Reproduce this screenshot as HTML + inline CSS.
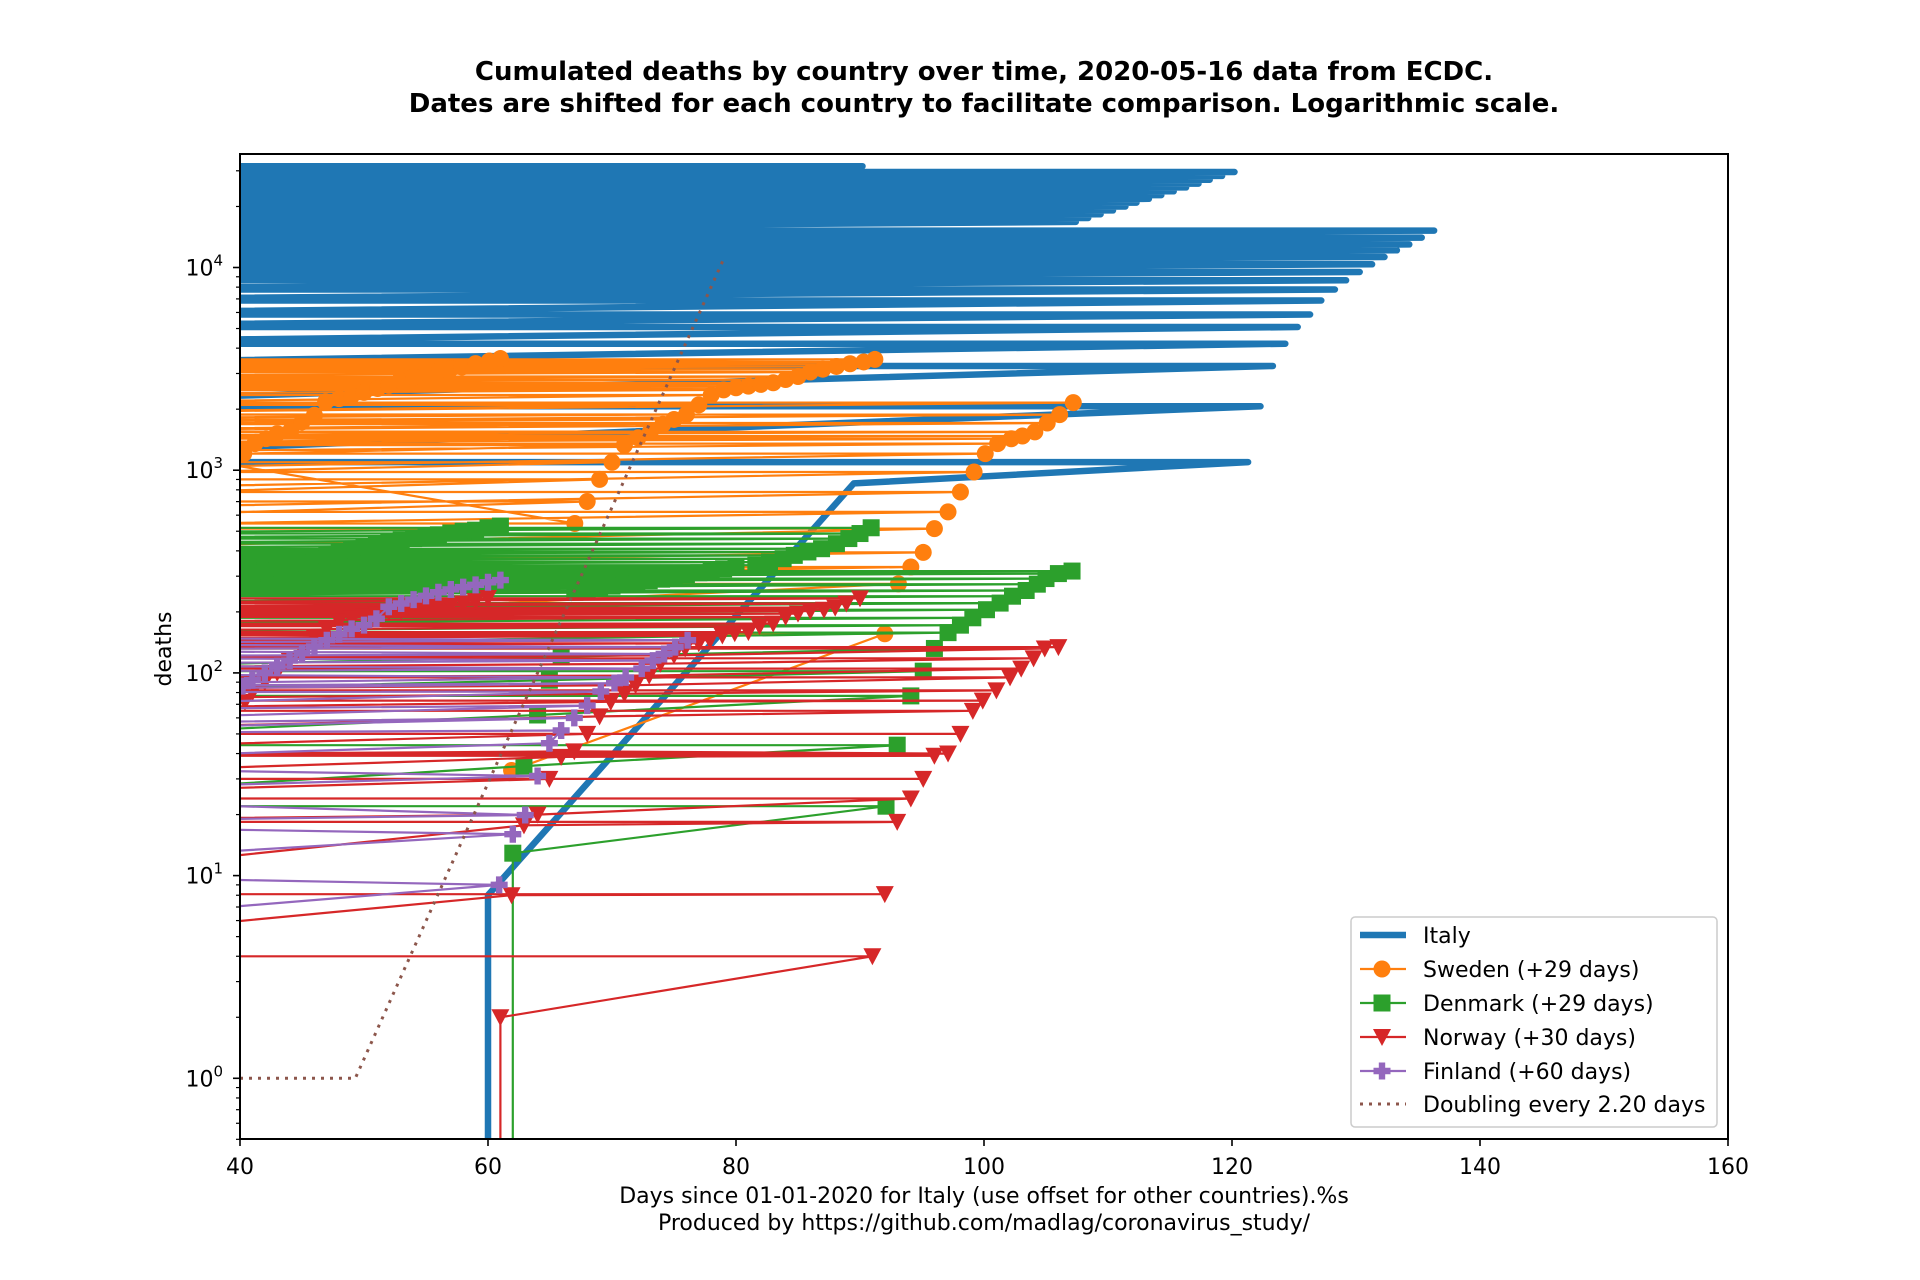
<!DOCTYPE html>
<html>
<head>
<meta charset="utf-8">
<style>
  html,body{margin:0;padding:0;background:#fff;}
  svg{display:block;}
  text{font-family:"DejaVu Sans","Liberation Sans",sans-serif;fill:#000;}
</style>
</head>
<body>
<svg id="chart" xmlns="http://www.w3.org/2000/svg" width="1920" height="1280" viewBox="0 0 1920 1280">
  <rect x="0" y="0" width="1920" height="1280" fill="#fff"/>
  <defs>
    <clipPath id="plotclip"><rect x="240" y="154" width="1488" height="985"/></clipPath>
  </defs>
  <text x="984" y="80" text-anchor="middle" font-size="26" font-weight="bold">Cumulated deaths by country over time, 2020-05-16 data from ECDC.</text>
  <text x="984" y="112" text-anchor="middle" font-size="26" font-weight="bold">Dates are shifted for each country to facilitate comparison. Logarithmic scale.</text>
  <g id="series" clip-path="url(#plotclip)"></g>
  <rect x="240" y="154" width="1488" height="985" fill="none" stroke="#000" stroke-width="2"/>
  <g id="axes"></g>
  <text x="984" y="1203" text-anchor="middle" font-size="22">Days since 01-01-2020 for Italy (use offset for other countries).%s</text>
  <text x="984" y="1230" text-anchor="middle" font-size="22">Produced by https://github.com/madlag/coronavirus_study/</text>
  <text x="0" y="0" transform="translate(171,649) rotate(-90)" text-anchor="middle" font-size="22">deaths</text>
  <g id="legend"></g>
</svg>
<script>
const italyDays = [60,60,89.5,121.3,10,122.3,10,123.3,10,124.3,10,125.3,10,126.3,10,127.2,10,128.3,10,129.2,10,130.3,10,131.3,10,132.3,10,133.3,10,134.3,10,135.3,10,136.3,10,107.4,10,108.4,10,109.4,10,110.4,10,111.4,10,112.3,10,113.3,10,114.3,10,115.3,10,116.3,10,117.3,10,118.2,10,119.2,10,120.2,10,90.2,10,89.8,10,89.4,10];
const italyDeaths = [0.1,8,861,1097,1097,2066,2066,3266,3266,4210,4210,5085,5085,5860,5860,6870,6870,7785,7785,8650,8650,9500,9500,10370,10370,11270,11270,12160,12160,13000,13000,14040,14040,15200,15200,16790,16790,17540,17540,18320,18320,19140,19140,20000,20000,20890,20890,21830,21830,22750,22750,23770,23770,24830,24830,25940,25940,27100,27100,28310,28310,29580,29580,31600,31600,31300,31300,30800,30800];

const swedenDays = [61.9,92,10,93.1,10,94.1,10,95.1,10,96.0,10,97.1,10,98.1,10,99.2,10,100.1,10,101.1,10,102.2,10,103.1,10,104.1,10,105.1,10,106.1,10,107.2,10,67,10,68,10,69,10,70,10,71,10,72.1,10,73.1,10,74.1,10,75,10,76,10,77,10,78,10,79,10,80,10,81,10,82,10,83,10,84,10,85,10,86,10,87,10,88.1,10,89.2,10,90.3,10,91.2,10,40.3,41.2,42.1,43,44.1,45,46,46.9,48,49,50,51.1,52,52.9,54,55.1,56.1,57,57.9,59,60.1,61];
const swedenDeaths = [33,156,156,275,275,333,333,393,393,515,515,623,623,781,781,980,980,1207,1207,1353,1353,1430,1430,1475,1475,1545,1545,1710,1710,1880,1880,2155,2155,546,546,701,701,901,901,1095,1095,1330,1330,1445,1445,1550,1550,1686,1686,1780,1780,1883,1883,2100,2100,2350,2350,2490,2490,2550,2550,2600,2600,2650,2650,2700,2700,2800,2800,2900,2900,3050,3050,3150,3150,3250,3250,3350,3350,3420,3420,3520,3520,1207,1353,1432,1515,1573,1730,1866,2172,2255,2330,2420,2530,2625,2780,2885,3000,3110,3170,3230,3355,3455,3555];

const denmarkDays = [62,62,92.1,10,62.9,93.0,10,64,94.1,10,64.95,95.1,10,65.9,96.0,10,97.1,10,98.1,10,99.1,10,100.2,10,101.3,10,102.3,10,103.4,10,104.3,10,105.0,10,106.0,10,107.1,10,67,10,68,10,69,10,70,10,71,10,72,10,73,10,74,10,75,10,76,10,77,10,78,10,79,10,80,10,81.6,10,82.7,10,83.8,10,84.7,10,85.8,10,86.9,10,88.1,10,89.1,10,90.0,10,90.9,10,40,41,42,43,44,45,46,47,48,49,50,51,52,53,54,55,56,57,58,59,60,61];
const denmarkDeaths = [0.1,12.9,22,22,34.7,44,44,62,77,77,92,102,102,120,132,132,158,158,172,172,187,187,205,205,221,221,239,239,255,255,274,274,292,292,309,309,318,318,250,250,255,255,262,262,268,268,275,275,280,280,285,285,290,290,298,298,305,305,312,312,318,318,326,326,333,333,340,340,352,352,366,366,380,380,395,395,410,410,434,434,460,460,487,487,520,520,300,310,320,330,340,350,365,380,395,405,420,434,443,452,460,470,480,490,500,506,520,530];

const norwayDays = [61,61,91,10,61.9,92.0,10,62.9,93.0,10,64,94.1,10,64.95,95.1,10,65.9,96.0,10,66.96,97.1,10,68,98.1,10,69,99.1,10,69.9,99.9,10,71,101,10,71.9,102.1,10,73,103,10,73.9,104,10,75,104.9,10,75.9,106,10,77,10,77.9,10,78.9,10,79.9,10,81,10,81.9,10,83,10,84,10,85,10,86,10,87.1,10,88,10,88.9,10,90,10,40.4,41,42,43,44,45,46,47,48,49,50,51,52,53,54,55,56,57,58,59,60];
const norwayDeaths = [0.1,2,4,4,8,8.1,8.1,17.7,18.4,18.4,20,24,24,30,30,30,38.5,39,39,41,40,40,50,50,50,61,65,65,72,73,73,79,82,82,87,95,95,97,105,105,111,118,118,122,132,132,132,134,134,140,140,145,145,153,153,157,157,159,159,170,170,175,175,189,189,196,196,202,202,205,205,210,210,220,220,233,233,72,80,90,100,115,130,150,165,180,185,190,195,200,203,206,209,212,215,220,226,234];

const finlandDays = [10,60.9,10,62,10,63,10,64,10,64.95,65.9,10,66.96,10,68,10,69.1,10,70.2,10,71.1,10,72.4,10,73.3,10,74.2,10,75.1,10,76.1,10,40.2,41,42,43,44,45,46,47,48,49,50,51,52,53,54,55,56,57,58,59,60,61];
const finlandDeaths = [5,9,10.3,16,18,19.9,25,31,35,45,52,50,60,55,69,65,81,80,89,85,95,100,105,110,115,120,124,130,134,140,145,150,86,92,100,108,115,125,135,145,155,165,172,185,212,220,230,240,250,258,265,272,280,287];

const doublingDays = [40,49.3,79];
const doublingDeaths = [1,1,11000];

const xTicks = [40,60,80,100,120,140,160];
const yTickExps = [0,1,2,3,4];

const NS = "http://www.w3.org/2000/svg";
const X0 = 240, X1 = 1728, Y0 = 154, Y1 = 1139;
const DMIN = 40, DMAX = 160;
const LOG_ZERO_Y = 1078.3, DECADE = 202.7;
function xS(d){ return X0 + (d - DMIN) * (X1 - X0) / (DMAX - DMIN); }
function yS(v){ return LOG_ZERO_Y - Math.log10(v) * DECADE; }
function mk(tag, attrs){ const e = document.createElementNS(NS, tag); for (const k in attrs) e.setAttribute(k, attrs[k]); return e; }

const seriesG = document.getElementById('series');
const axesG = document.getElementById('axes');
const legendG = document.getElementById('legend');

function markerShape(type, cx, cy, color){
  let e;
  if (type === 'circle') {
    e = mk('circle', {cx: cx, cy: cy, r: 8.5, fill: color});
  } else if (type === 'square') {
    e = mk('rect', {x: cx - 8.5, y: cy - 8.5, width: 17, height: 17, fill: color});
  } else if (type === 'tri') {
    e = mk('polygon', {points: (cx-9)+','+(cy-8)+' '+(cx+9)+','+(cy-8)+' '+cx+','+(cy+9), fill: color});
  } else {
    const a = 8.5, b = 3.2;
    e = mk('polygon', {points: [
      [cx-b,cy-a],[cx+b,cy-a],[cx+b,cy-b],[cx+a,cy-b],[cx+a,cy+b],[cx+b,cy+b],[cx+b,cy+a],[cx-b,cy+a],[cx-b,cy+b],[cx-a,cy+b],[cx-a,cy-b],[cx-b,cy-b]
    ].map(p => p.join(',')).join(' '), fill: color});
  }
  return e;
}

function drawSeries(key, days, deaths, color, lw, marker, dash){
  const g = mk('g', {});
  
  
  const pts = days.map((d, i) => xS(d).toFixed(1) + ',' + yS(deaths[i]).toFixed(1)).join(' ');
  const line = mk('polyline', {points: pts, fill: 'none', stroke: color, 'stroke-width': lw, 'stroke-linejoin': 'round', 'stroke-linecap': dash ? 'butt' : 'round'});
  if (dash) line.setAttribute('stroke-dasharray', dash);
  
  
  g.appendChild(line);
  if (marker) {
    days.forEach((d, i) => {
      const x = xS(d);
      if (x < X0 - 20 || x > X1 + 20) return;
      const m = markerShape(marker, x, yS(deaths[i]), color);
      
      
      g.appendChild(m);
    });
  }
  seriesG.appendChild(g);
}

drawSeries('italy', italyDays, italyDeaths, '#1f77b4', 6.5, null, null);
drawSeries('sweden', swedenDays, swedenDeaths, '#ff7f0e', 2.2, 'circle', null);
drawSeries('denmark', denmarkDays, denmarkDeaths, '#2ca02c', 2.2, 'square', null);
drawSeries('norway', norwayDays, norwayDeaths, '#d62728', 2.2, 'tri', null);
drawSeries('finland', finlandDays, finlandDeaths, '#9467bd', 2.2, 'plus', null);
drawSeries('doubling', doublingDays, doublingDeaths, '#8c564b', 3, null, '3,6');

xTicks.forEach(t => {
  const x = xS(t);
  const tk = mk('line', {x1: x, y1: Y1, x2: x, y2: Y1 + 7, stroke: '#000', 'stroke-width': 1.6});
  
  
  axesG.appendChild(tk);
  const lb = mk('text', {x: x, y: 1174, 'text-anchor': 'middle', 'font-size': 22});
  lb.textContent = String(t);
  
  
  axesG.appendChild(lb);
});
for (let e = -1; e <= 4; e++) {
  for (let m = 1; m <= 9; m++) {
    const v = m * Math.pow(10, e);
    const y = yS(v);
    if (y < Y0 - 0.5 || y > Y1 + 0.5) continue;
    const major = (m === 1);
    const tk = mk('line', {x1: X0 - (major ? 7 : 4), y1: y, x2: X0, y2: y, stroke: '#000', 'stroke-width': major ? 1.6 : 1.2});
    
    
    axesG.appendChild(tk);
  }
}
yTickExps.forEach(e => {
  const y = yS(Math.pow(10, e));
  const lb = mk('text', {x: 223, y: y + 8, 'text-anchor': 'end', 'font-size': 22});
  const base = document.createElementNS(NS, 'tspan');
  base.textContent = '10';
  const sup = document.createElementNS(NS, 'tspan');
  sup.setAttribute('dy', '-10');
  sup.setAttribute('font-size', '15');
  sup.textContent = String(e);
  lb.appendChild(base);
  lb.appendChild(sup);
  
  
  axesG.appendChild(lb);
});

const lgBox = mk('rect', {x: 1351, y: 917, width: 366, height: 210, rx: 4, fill: '#fff', 'fill-opacity': 0.85, stroke: '#cccccc', 'stroke-width': 1.5});


legendG.appendChild(lgBox);
const legendEntries = [
  ['Italy', '#1f77b4', 6.5, null, null],
  ['Sweden (+29 days)', '#ff7f0e', 2.2, 'circle', null],
  ['Denmark (+29 days)', '#2ca02c', 2.2, 'square', null],
  ['Norway (+30 days)', '#d62728', 2.2, 'tri', null],
  ['Finland (+60 days)', '#9467bd', 2.2, 'plus', null],
  ['Doubling every 2.20 days', '#8c564b', 3, null, '3,6']
];
const legendRows = [935, 969, 1003, 1037, 1071, 1104];
legendEntries.forEach((en, i) => {
  const y = legendRows[i];
  const g = mk('g', {});
  
  
  const ln = mk('line', {x1: 1360, y1: y, x2: 1406, y2: y, stroke: en[1], 'stroke-width': en[2]});
  if (en[4]) ln.setAttribute('stroke-dasharray', en[4]);
  
  
  g.appendChild(ln);
  if (en[3]) {
    const m = markerShape(en[3], 1382, y, en[1]);
    
    
    g.appendChild(m);
  }
  const t = mk('text', {x: 1423, y: y + 8, 'font-size': 22});
  t.textContent = en[0];
  
  
  g.appendChild(t);
  legendG.appendChild(g);
});
</script>
</body>
</html>
